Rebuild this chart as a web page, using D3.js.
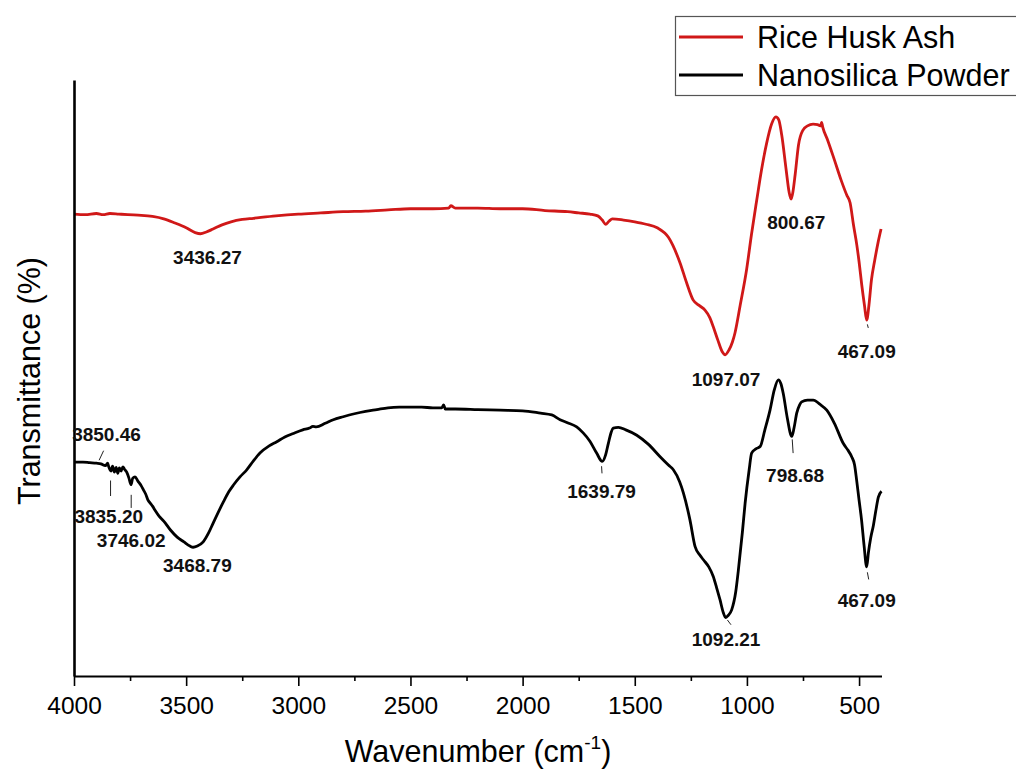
<!DOCTYPE html>
<html>
<head>
<meta charset="utf-8">
<script src="https://cdn.jsdelivr.net/npm/d3@7"></script>
<style>
  html, body { margin: 0; padding: 0; background: #fff; }
  svg { display: block; font-family: "Liberation Sans", Arial, sans-serif; }
</style>
</head>
<body>
<svg id="chart" width="1016" height="774"></svg>
<script>
// FTIR spectra: wavenumber (cm-1) and transmittance (arbitrary %, offset traces)
const riceHuskWavenumber = [4000,3950,3900,3870,3840,3800,3760,3700,3650,3600,3550,3500,3460,3436,3410,3380,3340,3300,3250,3200,3100,3000,2900,2800,2700,2600,2500,2400,2330,2320,2300,2200,2100,2000,1900,1800,1750,1700,1665,1645,1630,1615,1600,1550,1500,1450,1400,1350,1298,1270,1240,1210,1187,1165,1150,1130,1110,1097,1080,1065,1053,1030,1001,980,956,935,912,890,871,858,845,825,812,803,795,785,770,750,730,705,685,672,667,662,640,610,580,555,540,525,510,500,488,476,466,456,445,430,415,402];
const riceHuskTransmittance = [77.5,77.4,77.6,77.4,77.6,77.5,77.4,77.3,77.1,76.7,76.0,75.2,74.4,74.2,74.5,75.0,75.7,76.2,76.6,76.8,77.2,77.5,77.7,77.9,78.0,78.2,78.4,78.4,78.5,78.9,78.5,78.5,78.4,78.4,78.1,77.9,77.7,77.5,77.2,76.5,75.8,76.3,76.7,76.5,76.2,75.8,75.2,73.6,69.3,66.1,63.1,62.1,61.4,60.1,58.6,56.4,54.4,53.9,54.7,56.0,57.6,62.2,68.3,74.0,79.9,84.9,89.4,92.6,93.8,93.3,90.8,84.9,81.2,80.0,81.2,84.1,89.1,91.6,92.3,92.6,92.5,92.3,92.9,92.1,89.9,86.6,83.2,80.7,79.4,75.7,72.3,69.5,65.6,62.2,59.7,62.2,66.4,69.8,72.8,75.0];

const nanosilicaWavenumber = [4000,3960,3930,3900,3880,3860,3850,3845,3835,3828,3820,3812,3805,3798,3790,3782,3775,3765,3755,3746,3738,3728,3715,3700,3690,3680,3670,3660,3650,3640,3620,3600,3570,3540,3510,3483,3469,3450,3424,3400,3379,3350,3334,3310,3290,3260,3230,3200,3171,3130,3096,3060,3022,2980,2950,2935,2920,2880,2844,2800,2750,2700,2650,2600,2550,2500,2450,2400,2360,2352,2345,2300,2200,2100,2000,1920,1870,1833,1800,1759,1730,1700,1670,1645,1630,1618,1605,1596,1573,1540,1491,1440,1387,1350,1328,1300,1283,1254,1231,1210,1194,1170,1150,1135,1120,1105,1095,1085,1068,1050,1038,1020,1008,990,979,960,941,920,897,878,860,848,838,820,800,790,778,765,756,730,704,675,644,610,570,550,533,520,511,500,489,478,466,458,448,436,425,414,400];
const nanosilicaTransmittance = [35.9,35.9,35.8,35.7,35.6,35.3,35.7,35.1,34.4,35.2,34.2,35.0,34.0,34.9,34.4,35.1,34.7,34.2,33.2,32.1,33.2,33.4,32.7,31.9,31.2,30.5,29.5,29.0,28.5,27.9,26.8,26.0,24.5,23.3,22.5,21.8,21.6,21.8,22.5,24.0,25.7,28.0,29.2,30.9,32.0,33.4,34.6,36.1,37.4,38.6,39.3,40.1,40.7,41.3,41.6,41.9,41.8,42.4,43.0,43.5,44.0,44.4,44.7,45.0,45.1,45.1,45.1,45.0,45.0,45.5,44.8,44.8,44.7,44.6,44.5,44.1,43.8,43.0,42.5,41.8,40.8,39.4,37.4,36.0,37.1,39.0,40.9,41.6,41.7,41.3,40.4,38.9,36.8,35.4,34.6,32.6,30.7,26.2,21.7,20.3,19.5,18.3,16.7,14.8,12.8,10.6,9.8,10.1,11.1,14.1,17.8,24.2,29.0,34.6,37.4,38.1,38.5,41.3,44.6,48.0,49.7,49.0,47.4,43.3,40.2,41.6,44.1,45.5,46.0,46.3,46.3,45.6,44.6,42.4,39.0,37.9,36.8,35.4,32.9,29.5,26.2,22.0,18.3,20.8,23.2,25.3,27.8,30.0,31.0];

// peak label text and the (wavenumber, transmittance) spot each one sits at
const riceHuskPeaks = ["3436.27", "1097.07", "800.67", "467.09"];
const riceHuskPeakPos = [[3405, 69.1], [1093, 48.7], [780, 75.0], [466, 53.4]];
const nanosilicaPeaks = ["3850.46", "3835.20", "3746.02", "3468.79", "1639.79", "1092.21", "798.68", "467.09"];
const nanosilicaPeakPos = [[3855, 39.4], [3845, 25.6], [3745, 21.6], [3450, 17.5], [1648, 29.8], [1093, 5.1], [785, 32.6], [466, 11.6]];
// short leader marks [wn1, t1, wn2, t2]
const leaderLines = [
  [3888, 36.2, 3868, 37.8],
  [3837, 32.8, 3837, 30.2],
  [3745, 30.4, 3745, 28.2],
  [1648, 35.2, 1646, 34.0],
  [1087, 9.4, 1071, 8.6],
  [798, 39.7, 794, 37.4],
  [463, 17.4, 457, 16.2],
  [463, 59.0, 459, 58.4]
];

const majorTicks = [4000, 3500, 3000, 2500, 2000, 1500, 1000, 500];
const minorTicks = [3750, 3250, 2750, 2250, 1750, 1250, 750];
const seriesNames = ["Rice Husk Ash", "Nanosilica Powder"];
const seriesColors = ["#d01818", "#000000"];

const svg = d3.select("#chart");
const x = d3.scaleLinear().domain([4000, 400]).range([74, 881.5]);
const y = d3.scaleLinear().domain([0, 100]).range([676, 80]);

const line = d3.line().x(d => x(d[0])).y(d => y(d[1])).curve(d3.curveMonotoneX);

const riceData = d3.zip(riceHuskWavenumber, riceHuskTransmittance);
const nanoData = d3.zip(nanosilicaWavenumber, nanosilicaTransmittance);

svg.append("path").datum(riceData)
  .attr("d", line).attr("fill", "none")
  .attr("stroke", seriesColors[0]).attr("stroke-width", 2.8)
  .attr("stroke-linejoin", "round");
svg.append("path").datum(nanoData)
  .attr("d", line).attr("fill", "none")
  .attr("stroke", seriesColors[1]).attr("stroke-width", 2.8)
  .attr("stroke-linejoin", "round");

// bottom axis: labelled major ticks, unlabelled minor ticks
const xAxis = svg.append("g").attr("transform", "translate(0,676)")
  .call(d3.axisBottom(x).tickValues(majorTicks).tickFormat(d3.format("d"))
    .tickSize(10).tickSizeOuter(0).tickPadding(11));
xAxis.select(".domain").attr("stroke-width", 2.2).attr("stroke", "#000");
xAxis.selectAll(".tick line").attr("stroke-width", 1.6);
xAxis.selectAll(".tick text").attr("font-size", 24.5).attr("fill", "#000")
  .attr("font-family", "Liberation Sans, Arial, sans-serif");

const xMinor = svg.append("g").attr("transform", "translate(0,676)")
  .call(d3.axisBottom(x).tickValues(minorTicks).tickSize(5).tickFormat(""));
xMinor.select(".domain").remove();
xMinor.selectAll(".tick line").attr("stroke-width", 1.6);

// left axis line only
const yAxis = svg.append("g").attr("transform", "translate(74,0)")
  .call(d3.axisLeft(y).tickValues([]).tickSizeOuter(0));
yAxis.select(".domain").attr("stroke-width", 2.6).attr("stroke", "#000");

// axis titles
const xt = svg.append("text").attr("x", 478).attr("y", 762)
  .attr("text-anchor", "middle").attr("font-size", 30.5).attr("fill", "#000");
xt.append("tspan").text("Wavenumber (cm");
xt.append("tspan").attr("font-size", 19).attr("dy", -13).text("-1");
xt.append("tspan").attr("dy", 13).text(")");

svg.append("text").attr("transform", "translate(40,381) rotate(-90)")
  .attr("text-anchor", "middle").attr("font-size", 30.5).attr("fill", "#000")
  .text("Transmittance (%)");

// peak labels
const labelGroup = svg.append("g").attr("font-size", 19).attr("font-weight", "bold")
  .attr("fill", "#111").attr("text-anchor", "middle");
riceHuskPeaks.forEach((t, i) => {
  labelGroup.append("text").attr("x", x(riceHuskPeakPos[i][0])).attr("y", y(riceHuskPeakPos[i][1])).text(t);
});
nanosilicaPeaks.forEach((t, i) => {
  labelGroup.append("text").attr("x", x(nanosilicaPeakPos[i][0])).attr("y", y(nanosilicaPeakPos[i][1])).text(t);
});
svg.append("g").selectAll("line").data(leaderLines).join("line")
  .attr("x1", d => x(d[0])).attr("y1", d => y(d[1]))
  .attr("x2", d => x(d[2])).attr("y2", d => y(d[3]))
  .attr("stroke", "#222").attr("stroke-width", 1);

// legend
const legend = svg.append("g");
legend.append("rect").attr("x", 675.5).attr("y", 16.5).attr("width", 360).attr("height", 79)
  .attr("fill", "#fff").attr("stroke", "#555").attr("stroke-width", 1.2);
seriesNames.forEach((name, i) => {
  const ly = 37 + i * 38;
  legend.append("line").attr("x1", 679).attr("x2", 743).attr("y1", ly).attr("y2", ly)
    .attr("stroke", seriesColors[i]).attr("stroke-width", 3);
  legend.append("text").attr("x", 757).attr("y", ly + 11).attr("font-size", 30.5)
    .attr("fill", "#000").text(name);
});
</script>
</body>
</html>
